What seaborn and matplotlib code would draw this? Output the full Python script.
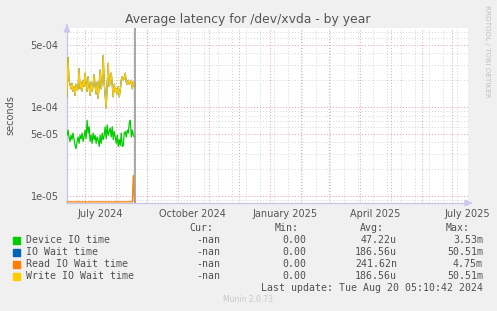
import numpy as np
import pandas as pd
import matplotlib
matplotlib.use("Agg")
import matplotlib.pyplot as plt
import seaborn as sns

# ---------------- data ----------------
start_date = "2024-06-13"
now_date = "2024-08-20"

device_io = [4.8e-5, 5.5e-5, 4.6e-5, 4.1e-5, 4.8e-5, 4.3e-5, 5.1e-5, 4.4e-5, 3.7e-5, 3.4e-5,
             4.1e-5, 4.6e-5, 3.9e-5, 4.8e-5, 4.4e-5, 5.1e-5, 4.1e-5, 4.6e-5, 5.5e-5, 4.4e-5,
             7.1e-5, 5.1e-5, 6.0e-5, 4.1e-5, 4.8e-5, 3.9e-5, 5.1e-5, 4.3e-5, 4.8e-5, 3.9e-5,
             4.6e-5, 4.3e-5, 3.6e-5, 4.8e-5, 3.9e-5, 5.1e-5, 4.3e-5, 4.8e-5, 6.0e-5, 4.4e-5,
             6.3e-5, 4.8e-5, 5.3e-5, 5.8e-5, 4.6e-5, 6.0e-5, 4.3e-5, 5.3e-5, 4.6e-5, 3.9e-5,
             4.8e-5, 3.6e-5, 4.3e-5, 3.7e-5, 5.1e-5, 3.6e-5, 3.7e-5, 5.1e-5, 5.3e-5, 4.6e-5,
             5.5e-5, 5.1e-5, 6.6e-5, 7.1e-5, 4.6e-5, 5.5e-5, 4.8e-5, 4.6e-5, 4.7e-5]

write_io_wait = [1.3e-4, 3.6e-4, 2.0e-4, 1.8e-4, 1.6e-4, 1.85e-4, 1.5e-4, 1.7e-4, 1.35e-4, 1.8e-4,
                 1.55e-4, 1.6e-4, 2.7e-4, 1.6e-4, 1.9e-4, 1.5e-4, 2.0e-4, 1.7e-4, 2.4e-4, 1.85e-4,
                 1.5e-4, 2.2e-4, 1.7e-4, 1.35e-4, 1.9e-4, 1.5e-4, 1.8e-4, 2.3e-4, 1.7e-4, 1.4e-4,
                 1.9e-4, 1.25e-4, 1.85e-4, 2.6e-4, 1.6e-4, 1.9e-4, 3.8e-4, 1.85e-4, 1.35e-4, 9.7e-5,
                 1.8e-4, 3.1e-4, 1.7e-4, 1.9e-4, 2.4e-4, 1.8e-4, 1.3e-4, 1.8e-4, 1.5e-4, 1.6e-4,
                 1.4e-4, 1.7e-4, 1.3e-4, 1.55e-4, 2.0e-4, 2.2e-4, 2.0e-4, 2.1e-4, 2.4e-4, 1.9e-4,
                 1.8e-4, 2.0e-4, 1.8e-4, 1.9e-4, 2.0e-4, 1.6e-4, 1.9e-4, 1.7e-4, 1.75e-4]

io_wait = list(write_io_wait)

read_io_wait = [0.0] * 66 + [1.7e-5, 0.0, 0.0]

series_names = ["Device IO time", "IO Wait time", "Read IO Wait time", "Write IO Wait time"]
series_colors = ["#00CC00", "#0066B3", "#FF8000", "#FFCC00"]
cur_vals = ["-nan", "-nan", "-nan", "-nan"]
min_vals = ["0.00", "0.00", "0.00", "0.00"]
avg_vals = ["47.22u", "186.56u", "241.62n", "186.56u"]
max_vals = ["3.53m", "50.51m", "4.75m", "50.51m"]

x_tick_dates = ["2024-07-16", "2024-10-16", "2025-01-16", "2025-04-16", "2025-07-16"]
x_tick_labels = ["July 2024", "October 2024", "January 2025", "April 2025", "July 2025"]
y_tick_vals = [1e-5, 5e-5, 1e-4, 5e-4]
y_tick_labels = ["1e-05", "5e-05", "1e-04", "5e-04"]

title = "Average latency for /dev/xvda - by year"
last_update = "Last update: Tue Aug 20 05:10:42 2024"

# ---------------- figure ----------------
W, H = 497, 311
fig = plt.figure(figsize=(W / 100, H / 100), dpi=100)
fig.patch.set_facecolor("#F0F0F0")
sns.set_style("white")
plt.rcParams["font.family"] = ["DejaVu Sans"]

L, R, T, B = 67, 468, 28, 203
ax = fig.add_axes([L / W, 1 - B / H, (R - L) / W, (B - T) / H])
ax.set_facecolor("white")

ymin, ymax = 8.34e-6, 7.72e-4
dates = pd.date_range(start_date, periods=len(device_io), freq="D")
df = pd.DataFrame({
    "date": np.concatenate([dates] * 4),
    "value": np.concatenate([device_io, io_wait,
                             np.clip(read_io_wait, ymin * 1.03, None), write_io_wait]),
    "series": np.repeat(series_names, len(dates)),
})
sns.lineplot(data=df, x="date", y="value", hue="series", hue_order=series_names,
             palette=series_colors, legend=False, linewidth=0.9, ax=ax, zorder=3)

ax.set_yscale("log")
ax.set_ylim(ymin, ymax)
x0 = pd.Timestamp("2024-06-13")
x1 = pd.Timestamp("2025-07-17")
ax.set_xlim(x0, x1)

# grid
minor_y = [m * 10.0 ** e for e in (-6, -5, -4) for m in (2, 3, 4, 6, 7, 8, 9)]
for v in minor_y:
    if ymin < v < ymax:
        ax.axhline(v, color="#D4D4D4", lw=0.7, ls=(0, (1, 2)), zorder=1)
for v in y_tick_vals:
    ax.axhline(v, color="#E8A0A0", lw=0.7, ls=(0, (1, 2)), zorder=1.5)
for d in pd.date_range("2024-06-23", x1, freq="14D"):
    ax.axvline(d, color="#D4D4D4", lw=0.7, ls=(0, (1, 2)), zorder=1)
for d in pd.date_range("2024-07-01", x1, freq="MS"):
    ax.axvline(d, color="#E8A0A0", lw=0.7, ls=(0, (1, 2)), zorder=1.5)

ax.axvline(pd.Timestamp(now_date), color="#999999", lw=1.2, zorder=4)

ax.set_yticks(y_tick_vals)
ax.set_yticklabels(y_tick_labels)
ax.yaxis.set_minor_locator(matplotlib.ticker.NullLocator())
ax.set_xticks(pd.to_datetime(x_tick_dates))
ax.set_xticklabels(x_tick_labels)
ax.tick_params(axis="both", length=0, labelsize=7, colors="#555555", pad=6)
ax.tick_params(axis="x", pad=4)
ax.set_xlabel("")
ax.set_ylabel("seconds", fontsize=7, color="#555555")
ax.yaxis.set_label_coords(-(L - 15) / (R - L), 0.5)

for s in ("top", "right"):
    ax.spines[s].set_visible(False)
for s in ("left", "bottom"):
    ax.spines[s].set_color("#C8C8E6")
    ax.spines[s].set_linewidth(1.0)

# axis arrows
ax.annotate("", xy=(0, 1 + 6 / (B - T)), xytext=(0, 1), xycoords="axes fraction",
            arrowprops=dict(arrowstyle="-|>,head_width=0.2,head_length=0.4",
                            color="#C8C8F0", lw=1.0), annotation_clip=False)
ax.annotate("", xy=(1 + 7 / (R - L), 0), xytext=(1, 0), xycoords="axes fraction",
            arrowprops=dict(arrowstyle="-|>,head_width=0.2,head_length=0.4",
                            color="#C8C8F0", lw=1.0), annotation_clip=False)

# title and side text
fig.text(248 / W, 1 - 19.5 / H, title, ha="center", va="center", fontsize=8.9, color="#555555")
fig.text(487 / W, 1 - 5 / H, "RRDTOOL / TOBI OETIKER", rotation=270, ha="center", va="top",
         fontsize=5.2, color="#C0C0C0")

# legend / stats
mono = "DejaVu Sans Mono"
fs = 7.15
tc = "#505050"
header_y = 228
fig.text(213 / W, 1 - header_y / H, "Cur:", ha="right", va="center", family=mono, fontsize=fs, color=tc)
fig.text(299 / W, 1 - header_y / H, "Min:", ha="right", va="center", family=mono, fontsize=fs, color=tc)
fig.text(384 / W, 1 - header_y / H, "Avg:", ha="right", va="center", family=mono, fontsize=fs, color=tc)
fig.text(470 / W, 1 - header_y / H, "Max:", ha="right", va="center", family=mono, fontsize=fs, color=tc)
row_ys = [240, 252, 264, 276]
for i, name in enumerate(series_names):
    yy = 1 - row_ys[i] / H
    fig.patches.append(matplotlib.patches.Rectangle((13 / W, 1 - (row_ys[i] + 3.5) / H), 7 / W, 7 / H,
                                                    transform=fig.transFigure, color=series_colors[i]))
    fig.text(26 / W, yy, name, ha="left", va="center", family=mono, fontsize=fs, color=tc)
    fig.text(220 / W, yy, cur_vals[i], ha="right", va="center", family=mono, fontsize=fs, color=tc)
    fig.text(306 / W, yy, min_vals[i], ha="right", va="center", family=mono, fontsize=fs, color=tc)
    fig.text(397 / W, yy, avg_vals[i], ha="right", va="center", family=mono, fontsize=fs, color=tc)
    fig.text(483 / W, yy, max_vals[i], ha="right", va="center", family=mono, fontsize=fs, color=tc)
fig.text(483 / W, 1 - 288 / H, last_update, ha="right", va="center", family=mono, fontsize=fs, color=tc)
fig.text(248 / W, 1 - 300 / H, "Munin 2.0.73", ha="center", va="center", fontsize=5.5, color="#C8C8C8")

fig.savefig("out.png", dpi=100, facecolor=fig.get_facecolor())
